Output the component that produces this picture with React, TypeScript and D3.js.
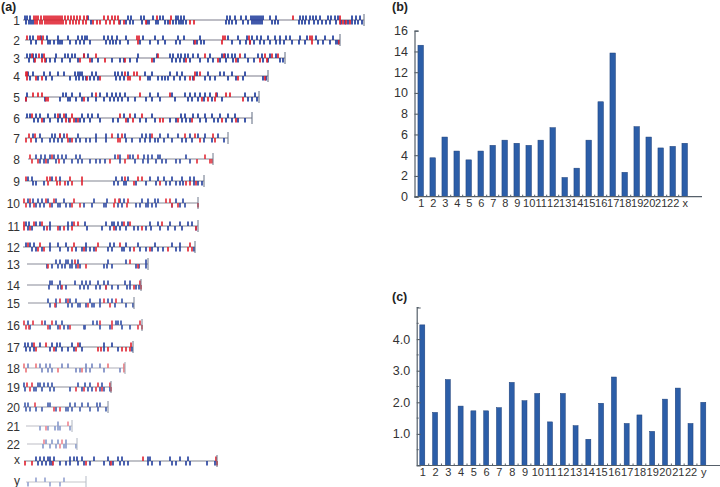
import React, { useEffect, useRef } from 'react';
import * as d3 from 'd3';

// panel (a): chromosome tracks, positions
const chromosomes = ['1', '2', '3', '4', '5', '6', '7', '8', '9', '10', '11', '12', '13', '14', '15', '16', '17', '18', '19', '20', '21', '22', 'x', 'y'];
const trackStart = [23, 25, 24, 25, 25, 25, 25, 28, 25, 23, 23, 23, 27, 27, 28, 23, 23, 23, 23, 23, 26, 27, 24, 26];
const trackEnd = [364, 340, 285, 268, 259, 252, 228, 213, 204, 198, 198, 195, 148, 141, 134, 142, 133, 125, 111, 108, 72, 77, 217, 86];
const trackRow = [20, 40, 58, 76, 97, 118, 138, 159, 181, 203, 226, 247, 264, 285, 303, 325, 347, 368, 387, 407, 426, 444, 461, 482];
const trackStrength = [1, 1, 1, 1, 1, 1, 0.95, 0.9, 0.95, 0.9, 0.95, 0.95, 0.9, 0.9, 0.85, 0.85, 0.95, 0.6, 0.85, 0.8, 0.5, 0.5, 0.95, 0.45];

const blueAbove = [
  [25, 27, 30, 88, 128, 131, 141, 144, 153, 160, 163, 176, 178, 181, 184, 227, 230, 235, 241, 246, 251, 253, 255, 257, 259, 261, 263, 270, 276, 300, 303, 306, 310, 313, 316, 320, 328, 331, 335, 338, 352, 356, 360],
  [30, 33, 41, 47, 58, 68, 78, 82, 85, 87, 104, 108, 112, 117, 126, 143, 155, 163, 178, 184, 200, 228, 238, 247, 252, 257, 261, 268, 275, 280, 286, 290, 300, 307, 316, 325, 333],
  [27, 30, 33, 36, 42, 56, 65, 68, 72, 75, 84, 88, 138, 157, 170, 173, 178, 181, 185, 188, 193, 198, 210, 222, 225, 228, 232, 235, 245, 258, 262, 270, 276],
  [28, 33, 44, 50, 58, 64, 75, 78, 80, 82, 92, 96, 115, 118, 122, 128, 145, 152, 170, 177, 182, 197, 208, 220, 224, 232, 245],
  [27, 63, 66, 72, 80, 92, 100, 107, 112, 116, 120, 125, 150, 158, 172, 185, 190, 195, 200, 205, 210, 217, 245, 255],
  [27, 30, 36, 40, 48, 55, 60, 66, 82, 88, 92, 98, 124, 135, 152, 181, 185, 193, 198, 205, 212, 220, 228, 235],
  [33, 40, 52, 55, 60, 64, 78, 96, 106, 118, 125, 142, 146, 150, 160, 168, 178, 190, 198, 205, 218],
  [36, 41, 45, 50, 54, 58, 62, 66, 76, 80, 115, 120, 130, 133, 144, 148, 152, 158, 160, 186],
  [28, 32, 52, 60, 116, 122, 128, 150, 158, 164, 172, 182, 190, 194],
  [28, 33, 38, 42, 48, 56, 64, 94, 107, 120, 124, 142, 148, 155, 158, 176, 183],
  [26, 29, 36, 40, 50, 68, 72, 85, 106, 112, 114, 118, 122, 128, 150, 158, 170, 180, 188, 192],
  [26, 30, 34, 50, 58, 66, 86, 110, 114, 126, 138, 155, 172, 180],
  [56, 60, 66, 68, 72, 78, 108, 126, 146],
  [50, 52, 60, 75, 82, 86, 90, 98, 104, 108, 125, 130],
  [48, 56, 66, 70, 76, 90, 100, 108, 112, 122],
  [28, 45, 56, 62, 93, 97, 116, 118, 121],
  [25, 28, 32, 40, 52, 57, 60, 72, 80, 104, 112],
  [28, 40, 46, 50, 62, 68, 86, 92, 100],
  [24, 38, 40, 44, 48, 52, 78, 85, 90, 102],
  [25, 28, 48, 50, 70, 75, 82, 88, 97, 100],
  [58],
  [46, 52, 58, 66],
  [36, 40, 44, 48, 50, 54, 70, 74, 77, 82, 94, 108, 118, 122, 148, 150, 170, 180, 188],
  [36, 45, 64],
];
const blueBelow = [
  [26, 29, 31, 33, 91, 120, 126, 130, 133, 142, 147, 149, 156, 158, 165, 168, 173, 176, 179, 181, 183, 186, 226, 229, 232, 236, 243, 248, 252, 254, 256, 258, 260, 262, 272, 275, 278, 299, 302, 305, 309, 314, 318, 322, 326, 330, 336, 341, 345, 348, 352, 355, 358, 362],
  [31, 36, 48, 50, 54, 58, 60, 62, 70, 76, 80, 84, 90, 106, 110, 113, 116, 120, 128, 140, 150, 158, 165, 176, 180, 194, 197, 201, 204, 232, 240, 246, 250, 254, 260, 264, 270, 276, 280, 284, 292, 299, 305, 318, 323, 330, 336, 338],
  [29, 34, 46, 50, 55, 62, 70, 78, 92, 98, 112, 120, 124, 130, 137, 154, 172, 176, 180, 184, 190, 200, 208, 213, 220, 226, 233, 238, 248, 254, 263, 268, 280, 283],
  [30, 38, 46, 52, 70, 76, 79, 83, 86, 90, 94, 98, 116, 120, 124, 148, 150, 158, 162, 165, 168, 174, 180, 185, 193, 205, 210, 215, 228, 236, 243, 263, 266],
  [26, 45, 60, 68, 70, 76, 82, 88, 96, 104, 110, 114, 118, 122, 128, 135, 146, 152, 160, 175, 188, 192, 198, 204, 212, 222, 248, 252, 257],
  [34, 38, 44, 50, 58, 62, 69, 76, 80, 84, 90, 100, 113, 118, 128, 140, 146, 155, 170, 176, 182, 186, 190, 200, 206, 214, 218, 226, 232, 238, 245],
  [36, 42, 50, 54, 58, 62, 70, 76, 80, 86, 90, 96, 106, 126, 132, 140, 145, 150, 155, 158, 164, 172, 182, 186, 192, 204, 212, 224],
  [40, 44, 48, 56, 64, 72, 78, 82, 90, 96, 100, 105, 120, 135, 143, 148, 156, 162, 166, 176, 180, 190],
  [33, 36, 44, 68, 114, 118, 124, 126, 136, 146, 156, 166, 170, 176, 180, 183, 194, 198, 202],
  [30, 36, 40, 44, 52, 58, 60, 66, 70, 84, 92, 104, 106, 118, 122, 136, 140, 146, 148, 152, 156, 172, 180, 185],
  [28, 32, 44, 50, 60, 68, 87, 102, 110, 116, 120, 126, 134, 138, 146, 151, 160, 168, 175, 182, 196],
  [32, 36, 42, 50, 60, 68, 76, 82, 86, 90, 94, 108, 112, 122, 124, 130, 140, 146, 152, 158, 163, 176, 180, 194],
  [47, 52, 58, 62, 65, 70, 72, 76, 80, 104, 107, 112, 136, 139, 146],
  [49, 58, 61, 66, 80, 84, 88, 96, 100, 106, 112, 118, 127, 130, 136, 139],
  [50, 56, 68, 72, 78, 80, 86, 92, 94, 100, 115, 126, 133],
  [30, 50, 58, 64, 68, 84, 85, 100, 110, 122, 130],
  [26, 30, 34, 50, 56, 62, 68, 74, 82, 104, 118, 132],
  [42, 48, 52, 76, 80, 86, 90, 104, 120],
  [25, 34, 36, 42, 50, 54, 70, 82, 88, 92, 100, 104, 110],
  [26, 30, 36, 42, 56, 66, 68, 72, 80, 90, 98, 106],
  [40, 48, 55, 58, 60, 70],
  [43, 50, 56, 64, 66, 76],
  [38, 42, 46, 50, 52, 60, 66, 70, 78, 84, 90, 104, 110, 113, 120, 124, 128, 148, 152, 160, 172, 176, 186, 190, 207, 215],
  [28, 50, 60],
];
const redAbove = [
  [34, 36, 38, 41, 44, 46, 48, 50, 52, 54, 56, 58, 60, 62, 65, 68, 71, 74, 77, 80, 84, 87, 104, 108, 112, 115, 118, 157, 171, 293, 340],
  [27, 38, 40, 43, 137, 139, 223, 225, 249, 310, 312],
  [32, 39, 44, 84, 96, 158, 205, 224, 240, 265, 272, 278],
  [26, 27, 125, 134, 137, 195, 200],
  [33, 38, 42, 96, 140, 170, 216, 226, 230],
  [32, 58, 64, 72, 120, 130, 142],
  [29, 35, 60, 67, 112, 122, 152, 185, 195, 213],
  [30, 52, 118, 128, 138, 205],
  [26, 47, 50, 56, 70, 82, 125, 138, 142],
  [24, 30, 46, 54, 74, 115, 119, 128, 166, 170],
  [24, 34, 42, 74, 78, 124, 130, 162],
  [28, 40, 74, 98, 120, 190],
  [75, 130],
  [140],
  [60, 68, 104, 116],
  [24, 33, 42, 52, 100, 112, 140],
  [34, 46, 78, 131],
  [24, 36, 108, 124],
  [27, 32, 98, 110],
  [35],
  [68],
  [44, 62],
  [143, 216],
  [],
];
const redBelow = [
  [35, 37, 40, 42, 45, 47, 49, 51, 53, 55, 57, 59, 61, 63, 66, 70, 73, 76, 79, 83, 86, 93, 97, 100, 106, 110, 114, 119, 124, 146, 170, 190, 194, 340, 343, 346, 350],
  [42, 138, 195, 222, 250, 312, 339],
  [35, 42, 45, 80, 90, 105, 125, 152, 186, 218, 236, 260, 267],
  [27, 36, 42, 87, 100, 128, 130, 140, 190, 194, 238, 265],
  [26, 46, 48, 84, 202, 208, 215, 243],
  [42, 66, 70, 74, 78, 126, 133, 160, 163, 178, 192, 222, 236],
  [26, 31, 68, 72, 118, 120, 200, 215],
  [32, 38, 46, 59, 110, 125, 197, 210, 212],
  [48, 57, 60, 65, 72, 82, 134, 160, 186, 190, 196],
  [26, 34, 50, 72, 80, 114, 127, 172, 178, 198],
  [24, 30, 47, 58, 64, 72, 114, 142, 196],
  [38, 44, 72, 84, 96, 134, 150, 168, 188, 192],
  [48, 78, 86, 138],
  [62, 106, 134, 141],
  [55, 88, 110],
  [26, 29, 48, 60, 70, 112, 138, 142],
  [36, 54, 76, 98, 101, 108, 122, 126, 130],
  [26, 58, 82, 124],
  [30, 76, 84, 96, 102, 111],
  [54, 60],
  [46],
  [60],
  [25, 32, 53, 86, 111, 217],
  [],
];

// panel (b)
const labelsB = ['1', '2', '3', '4', '5', '6', '7', '8', '9', '10', '11', '12', '13', '14', '15', '16', '17', '18', '19', '20', '21', '22', 'x'];
const valuesB = [14.6, 3.75, 5.75, 4.4, 3.55, 4.4, 4.95, 5.45, 5.15, 4.95, 5.45, 6.65, 1.85, 2.75, 5.45, 9.15, 13.85, 2.35, 6.75, 5.75, 4.7, 4.85, 5.15];
const ticksB = [0, 2, 4, 6, 8, 10, 12, 14, 16];

// panel (c)
const labelsC = ['1', '2', '3', '4', '5', '6', '7', '8', '9', '10', '11', '12', '13', '14', '15', '16', '17', '18', '19', '20', '21', '22', 'y'];
const valuesC = [4.45, 1.68, 2.72, 1.88, 1.73, 1.73, 1.83, 2.63, 2.05, 2.28, 1.38, 2.28, 1.26, 0.83, 1.97, 2.8, 1.33, 1.6, 1.08, 2.1, 2.45, 1.33, 2.0];
const ticksC = [1, 2, 3, 4];
const minorTicksC = [0.5, 1.5, 2.5, 3.5, 4.5, 5];

const panelLabels = ['(a)', '(b)', '(c)'];
const panelLabelX = [1, 392, 392];
const panelLabelY = [11, 11, 301];

const FONT = '"Liberation Sans", Arial, sans-serif';
const TEXT = '#333';
const AXIS = '#56606a';
const BAR = '#2c5ea8';
const BAR_EDGE = '#1d3f78';
const BLUE = '#1f3c9c';
const RED = '#e0202e';

type Svg = d3.Selection<SVGSVGElement, unknown, null, undefined>;

function drawTracks(svg: Svg) {
  const g = svg.append('g').attr('filter', 'url(#soft)');
  const x = d3.scaleLinear().domain([0, 720]).range([0, 720]);
  const tickH = 4.5;

  chromosomes.forEach((name, i) => {
    const y = trackRow[i];
    const track = g.append('g').attr('opacity', trackStrength[i]);

    track.append('line')
      .attr('x1', x(trackStart[i])).attr('x2', x(trackEnd[i]))
      .attr('y1', y).attr('y2', y)
      .attr('stroke', '#7d7f8c').attr('stroke-width', 1.1);

    const groups: [number[], string, number][] = [
      [blueAbove[i], BLUE, -1],
      [blueBelow[i], BLUE, 1],
      [redAbove[i], RED, -1],
      [redBelow[i], RED, 1],
    ];
    groups.forEach(([positions, color, dir]) => {
      track.selectAll(null)
        .data(positions)
        .enter()
        .append('line')
        .attr('x1', d => x(d)).attr('x2', d => x(d))
        .attr('y1', y).attr('y2', y + dir * tickH)
        .attr('stroke', color).attr('stroke-width', 1.7);
    });

    // end cap of the chromosome
    track.append('line')
      .attr('x1', x(trackEnd[i])).attr('x2', x(trackEnd[i]))
      .attr('y1', y - 6).attr('y2', y + 6)
      .attr('stroke', '#5f6b80').attr('stroke-width', 1);

    const lowercase = name === 'x' || name === 'y';
    svg.append('text')
      .attr('x', 20).attr('y', y + (lowercase ? 2.5 : 4.5))
      .attr('text-anchor', 'end')
      .style('font-family', FONT).style('font-size', '12px').style('fill', TEXT)
      .text(name);
  });
}

function drawBars(
  svg: Svg,
  labels: string[],
  values: number[],
  opts: {
    domain: [number, number]; yRange: [number, number]; xRange: [number, number];
    axisX: number; axisEnd: number; barWidth: number; ticks: number[]; minor: number[];
    format: (d: number) => string;
  }
) {
  const x = d3.scalePoint<string>().domain(labels).range(opts.xRange);
  const y = d3.scaleLinear().domain(opts.domain).range(opts.yRange);
  const step = x.step();

  svg.selectAll(null)
    .data(values)
    .enter()
    .append('rect')
    .attr('x', (_, i) => (x(labels[i]) || 0) - opts.barWidth / 2)
    .attr('y', d => y(d))
    .attr('width', opts.barWidth)
    .attr('height', d => y(0) - y(d))
    .attr('fill', BAR)
    .attr('stroke', BAR_EDGE)
    .attr('stroke-width', 0.5);

  // little marks between the bars
  svg.selectAll(null)
    .data(labels.slice(0, -1))
    .enter()
    .append('line')
    .attr('x1', d => (x(d) || 0) + step / 2).attr('x2', d => (x(d) || 0) + step / 2)
    .attr('y1', y(0)).attr('y2', y(0) - 2)
    .attr('stroke', AXIS).attr('stroke-width', 1);

  const left = svg.append('g')
    .attr('transform', `translate(${opts.axisX}, 0)`)
    .call(d3.axisLeft(y).tickValues(opts.ticks).tickSize(-4).tickPadding(6.5).tickFormat(d => opts.format(d as number)));
  left.select('.domain').attr('stroke', AXIS).attr('stroke-width', 1.2);
  left.selectAll('.tick line').attr('stroke', AXIS).attr('stroke-width', 1.1);
  left.selectAll('text').style('font-family', FONT).style('font-size', '12.5px').style('fill', TEXT);

  svg.selectAll(null)
    .data(opts.minor)
    .enter()
    .append('line')
    .attr('x1', opts.axisX).attr('x2', opts.axisX + 2)
    .attr('y1', d => y(d)).attr('y2', d => y(d))
    .attr('stroke', AXIS).attr('stroke-width', 1);

  svg.append('line')
    .attr('x1', opts.axisX).attr('x2', opts.axisEnd)
    .attr('y1', y(0)).attr('y2', y(0))
    .attr('stroke', AXIS).attr('stroke-width', 1.2);

  const bottom = svg.append('g')
    .attr('transform', `translate(0, ${y(0)})`)
    .call(d3.axisBottom(x).tickSize(0).tickPadding(3));
  bottom.select('.domain').remove();
  bottom.selectAll('text').style('font-family', FONT).style('font-size', '11px').style('fill', TEXT);
}

export default function App() {
  const svgRef = useRef<SVGSVGElement>(null);

  useEffect(() => {
    if (!svgRef.current) return;
    const svg = d3.select(svgRef.current);
    svg.selectAll('*').remove();

    svg.append('defs')
      .append('filter').attr('id', 'soft')
      .attr('filterUnits', 'userSpaceOnUse')
      .attr('x', 0).attr('y', 0).attr('width', 720).attr('height', 487)
      .append('feGaussianBlur').attr('stdDeviation', 0.35);

    panelLabels.forEach((t, i) => {
      svg.append('text')
        .attr('x', panelLabelX[i]).attr('y', panelLabelY[i])
        .style('font-family', FONT).style('font-size', '12.5px').style('font-weight', 'bold').style('fill', '#222')
        .text(t);
    });

    drawTracks(svg as unknown as Svg);

    drawBars(svg as unknown as Svg, labelsB, valuesB, {
      domain: [0, 16], yRange: [196.7, 30.7], xRange: [420.7, 684.7],
      axisX: 414.5, axisEnd: 702, barWidth: 5.5, ticks: ticksB, minor: [],
      format: d => String(d),
    });

    drawBars(svg as unknown as Svg, labelsC, valuesC, {
      domain: [0, 5], yRange: [465.5, 307.5], xRange: [422.3, 703.3],
      axisX: 416.7, axisEnd: 720, barWidth: 5, ticks: ticksC, minor: minorTicksC,
      format: d => d.toFixed(1),
    });
  }, []);

  return (
    <svg
      ref={svgRef}
      width={720}
      height={487}
      style={{ position: 'absolute', left: 0, top: 0, background: '#fff' }}
    />
  );
}
